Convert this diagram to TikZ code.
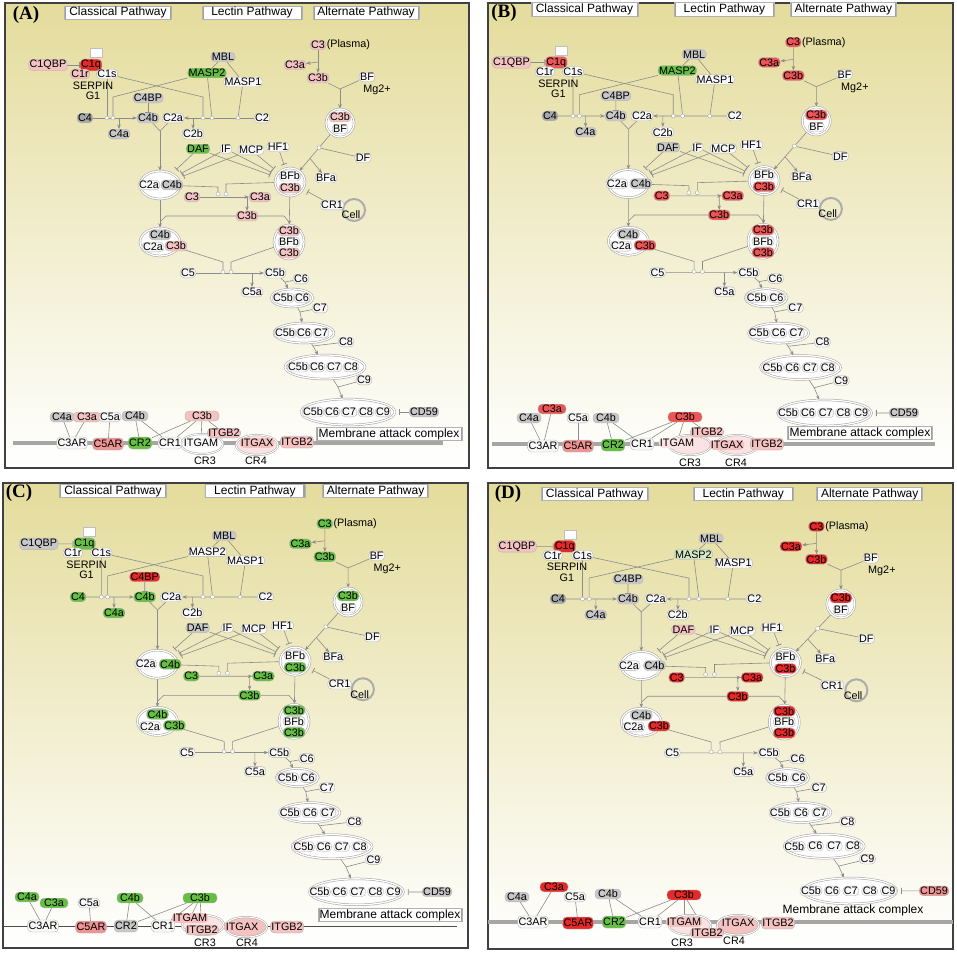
\documentclass[tikz,border=0pt]{standalone}
\usepackage{fontspec}
\setmainfont{Liberation Sans}
\newfontfamily\serifb{Liberation Serif}
\usetikzlibrary{shapes.geometric,arrows.meta,calc}
\pgfdeclarelayer{back}\pgfdeclarelayer{edges}
\pgfsetlayers{back,edges,main}
\definecolor{pinkL}{HTML}{F5C2C2}
\definecolor{pinkLL}{HTML}{FBE3E3}
\definecolor{pinkM}{HTML}{EE9494}
\definecolor{redM}{HTML}{EC5555}
\definecolor{redS}{HTML}{E52828}
\definecolor{grnM}{HTML}{66BE44}
\definecolor{grnL}{HTML}{D4EAC6}
\definecolor{greyN}{HTML}{C8C8C8}
\definecolor{greyD}{HTML}{A8A8A8}
\definecolor{whN}{HTML}{F8F8F8}
\definecolor{bgtop}{HTML}{E4DC9C}
\definecolor{bgmid}{HTML}{F5F1D3}
\definecolor{edgec}{HTML}{8C8C8C}
\newcommand\setk[2]{\colorlet{k#1}{#2}}
\setk{C1QBP}{whN}\setk{C1q}{whN}\setk{C1r}{whN}\setk{C1s}{whN}\setk{SERP}{whN}
\setk{MBL}{greyN}\setk{MASP2}{whN}\setk{MASP1}{whN}\setk{C4BP}{greyN}\setk{C4}{greyD}
\setk{C4b}{greyN}\setk{C2a}{whN}\setk{C4a}{greyN}\setk{C2b}{whN}\setk{C2}{whN}
\setk{DAF}{whN}\setk{IF}{whN}\setk{MCP}{whN}\setk{HF1}{whN}\setk{C3}{whN}
\setk{BF}{whN}\setk{DF}{whN}\setk{BFa}{whN}\setk{CR1}{whN}\setk{C5}{whN}\setk{CD59}{greyN}
\setk{bC4a}{greyN}\setk{bC3a}{whN}\setk{bC5a}{whN}\setk{bC4b}{greyN}\setk{bC3b}{whN}
\setk{C3AR}{whN}\setk{C5AR}{whN}\setk{CR2}{whN}\setk{bCR1}{whN}\setk{ITGAM}{whN}
\setk{ITGB2}{whN}\setk{ITGAX}{whN}\setk{R3}{white}\setk{R4}{white}
\newcommand\nf{\fontsize{10.8}{10.5}\selectfont}
\newcommand\hf{\fontsize{12}{13}\selectfont}
\tikzset{
  gn/.style={draw=gray!60, line width=0.35pt, fill=#1, rounded corners=4pt, inner xsep=1pt, inner ysep=1pt, font=\nf, text=black},
  gn/.default=whN,
  rc/.style={gn=#1, minimum height=12pt},
  cpx/.style={ellipse, draw=gray!75, line width=0.5pt, double=white, double distance=1.3pt, fill=white, inner sep=0pt},
  ring/.style={ellipse, draw=gray!70, line width=0.5pt, double=white, double distance=1pt, fill=#1, minimum width=42pt, minimum height=20pt, inner sep=0pt},
  ed/.style={draw=edgec, line width=0.6pt},
  ar/.style={ed, -{Stealth[length=4.5pt,width=3.5pt]}},
  inh/.style={ed, -{Bar[width=6pt,line width=0.8pt]}},
  jn/.style={circle, draw=gray!70, fill=white, line width=0.4pt, inner sep=0pt, minimum size=4pt},
  hdr/.style={draw=gray!60, line width=0.7pt, fill=white, font=\hf, inner sep=1pt, minimum height=12pt,
    path picture={\draw[gray!75, line width=3pt] (path picture bounding box.north west) -- (path picture bounding box.south west) (path picture bounding box.north east) -- (path picture bounding box.south east);}},
  plbl/.style={font=\serifb\bfseries\fontsize{19}{19}\selectfont},
  frm/.style={draw=black!75, line width=1.6pt},
  txt/.style={font=\nf, inner sep=0.5pt}
}
\newcommand\cbody{%
\node[hdr, minimum width=107pt] (hd1) at (118,12.5) {Classical Pathway};
\node[hdr, minimum width=100pt] (hd2) at (252,12.5) {Lectin Pathway};
\node[hdr, minimum width=106pt] (hd3) at (366,12.5) {Alternate Pathway};
\node[draw=gray!50, fill=white, minimum width=12pt, minimum height=9pt, inner sep=0pt] (sq) at (96,53) {};
\node[gn=kC1QBP] (c1qbp) at (48,65) {C1QBP};
\node[gn=kC1q] (c1q) at (91,65) {C1q};
\node[gn=kC1r] (c1r) at (80,74) {C1r};
\node[gn=kC1s] (c1s) at (107,74) {C1s};
\node[txt, align=center] (serp) at (93,91) {SERPIN\\G1};
\node[gn=kMBL] (mbl) at (223,57) {MBL};
\node[gn=kMASP2] (masp2) at (207,73) {MASP2};
\node[gn=kMASP1] (masp1) at (243,82) {MASP1};
\node[gn=kC4BP] (c4bp) at (148,98) {C4BP};
\node[gn=kC4] (c4) at (85,118) {C4};
\node[gn=kC4b] (c4b) at (148,118) {C4b};
\node[gn=kC2a] (c2a) at (173,118) {C2a};
\node[gn=kC4a] (c4a) at (119,134) {C4a};
\node[gn=kC2b] (c2b) at (193,134) {C2b};
\node[gn=kC2] (c2) at (262,118) {C2};
\node[jn] (jc1) at (107,118) {};
\node[jn] (jc2) at (113,118) {};
\node[jn] (jl1) at (203,118) {};
\node[jn] (jl2) at (212,118) {};
\node[jn] (jl3) at (238,118) {};
\coordinate (b1) at (113,97);
\coordinate (b2) at (203,97);
\coordinate (xc4a) at (119,118);
\coordinate (xc2b) at (193,118);
\coordinate (m0) at (160,131);
\node[gn=kDAF] (daf) at (198,149) {DAF};
\node[gn=kIF] (if) at (226,149) {IF};
\node[gn=kMCP] (mcp) at (251,150) {MCP};
\node[gn=kHF1] (hf1) at (278,147) {HF1};
% complexes middle
\node[cpx, minimum width=40pt, minimum height=28pt] (cpx1) at (160,185) {};
\node[gn=kC2a] (cpx1a) at (149,185) {C2a};
\node[gn=kC4b] (cpx1b) at (172,185) {C4b};
\node[cpx, minimum width=30pt, minimum height=28pt] (cpx2) at (290,182) {};
\node[gn=kBF] (cpx2a) at (290,176) {BFb};
\node[gn=kC3] (cpx2b) at (290,188) {C3b};
\node[gn=kC3] (c3m) at (192,197) {C3};
\node[jn] (j1) at (218,194) {};
\node[jn] (j2) at (226,194) {};
\node[gn=kC3] (c3am) at (260,197) {C3a};
\node[gn=kC3] (c3bm) at (247,216) {C3b};
\coordinate (bj1) at (218,187);
\coordinate (bj2) at (226,184);
\coordinate (xc3) at (247,197);
\coordinate (w1) at (166,216);
\coordinate (v1) at (160,222);
\coordinate (w2) at (284,216);
\coordinate (v2) at (289,222);
% alternate
\node[gn=kC3] (c3p) at (318,45) {C3};
\node[txt, anchor=west] (plasma) at (c3p.east) {(Plasma)};
\node[gn=kC3] (c3at) at (295,65) {C3a};
\node[gn=kC3] (c3bt) at (318,78) {C3b};
\node[gn=kBF] (bf) at (367,77) {BF};
\node[txt] (mg) at (377,90) {Mg2+};
\coordinate (xc3p) at (318,62);
\coordinate (m5) at (340,89);
\node[cpx, minimum width=28pt, minimum height=28pt] (cpx3) at (340,123) {};
\node[gn=kC3] (cpx3a) at (340,117) {C3b};
\node[gn=kBF] (cpx3b) at (340,129) {BF};
\node[jn] (jdf) at ($(cpx3)!0.42!(cpx2)$) {};
\coordinate (xbfa) at ($(cpx3)!0.6!(cpx2)$);
\node[gn=kDF] (df) at (363,158) {DF};
\node[gn=kBFa] (bfa) at (326,178) {BFa};
\node[circle, draw=gray!65, line width=2pt, minimum size=22pt, inner sep=0pt] (cell) at (354,210) {};
\node[gn=kCR1] (cr1) at (332,205) {CR1};
\node[txt] (celltx) at (351,215) {Cell};
% lower complexes
\node[cpx, minimum width=40pt, minimum height=28pt] (cpx4) at (160,242) {};
\node[gn=kC4b] (cpx4a) at (160,235) {C4b};
\node[gn=kC2a] (cpx4b) at (153,247) {C2a};
\node[gn=kC3] (cpx4c) at (176,246) {C3b};
\node[cpx, minimum width=30pt, minimum height=34pt] (cpx5) at (289,242) {};
\node[gn=kC3] (cpx5a) at (289,231) {C3b};
\node[gn=kBF] (cpx5b) at (289,242) {BFb};
\node[gn=kC3] (cpx5c) at (289,253) {C3b};
\node[jn] (j3) at (223,272) {};
\node[jn] (j4) at (231,272) {};
\coordinate (b3) at (223,262);
\coordinate (b4) at (231,262);
\node[gn=kC5] (c5) at (188,273) {C5};
\node[gn=kC5] (c5b) at (275,273) {C5b};
\node[gn=kC5] (c6) at (301,279) {C6};
\node[gn=kC5] (c5a) at (252,292) {C5a};
\coordinate (xc5) at (252,273);
\coordinate (m1) at (285,282);
\coordinate (m2) at (300,312);
\coordinate (m3) at (313,346);
\coordinate (m4) at (338,387);
\node[cpx, minimum width=42pt, minimum height=18pt] (mac1) at (292,298) {};
\node[gn] (mac1a) at (283,298) {C5b};
\node[gn] (mac1b) at (302,298) {C6};
\node[gn=kC5] (c7) at (320,308) {C7};
\node[cpx, minimum width=60pt, minimum height=20pt] (mac2) at (304,333) {};
\node[gn] (mac2a) at (285,333) {C5b};
\node[gn] (mac2b) at (304,333) {C6};
\node[gn] (mac2c) at (321,333) {C7};
\node[gn=kC5] (c8) at (346,342) {C8};
\node[cpx, minimum width=80pt, minimum height=24pt] (mac3) at (325,367) {};
\node[gn] (mac3a) at (298,367) {C5b};
\node[gn] (mac3b) at (317,367) {C6};
\node[gn] (mac3c) at (334,367) {C7};
\node[gn] (mac3d) at (351,367) {C8};
\node[gn=kC5] (c9) at (364,380) {C9};
\node[cpx, minimum width=94pt, minimum height=26pt] (mac4) at (348,412) {};
\node[gn] (mac4a) at (313,412) {C5b};
\node[gn] (mac4b) at (332,412) {C6};
\node[gn] (mac4c) at (349,412) {C7};
\node[gn] (mac4d) at (366,412) {C8};
\node[gn] (mac4e) at (383,412) {C9};
\node[gn=kCD59] (cd59) at (424,412) {CD59};
\begin{pgfonlayer}{edges}
\draw[inh] (c1qbp) -- (c1q);
\draw[ed] (c1s) -- (jc1);
\draw[ed] (masp2) -- (b1) -- (jc2);
\draw[ed] (c1s) -- (b2) -- (jl1);
\draw[ed] (masp2) -- (jl2);
\draw[ed] (masp1) -- (jl3);
\draw[ed] (mbl) -- (masp2);
\draw[ed] (mbl) -- (masp1);
\draw[ar] (c4) -- (c4b);
\draw[ar] (c2) -- (c2a);
\draw[ar] (xc4a) -- (c4a);
\draw[ar] (xc2b) -- (c2b);
\draw[inh] (c4bp) -- (c4b);
\draw[ed] (c4b) -- (m0);
\draw[ed] (c2a) -- (m0);
\draw[ar] (m0) -- (cpx1);
\draw[inh, shorten >=6pt] (daf) -- (cpx1);
\draw[inh, shorten >=6pt] (if) -- (cpx1);
\draw[inh, shorten >=6pt] (mcp) -- (cpx1);
\draw[inh, shorten >=6pt] (daf) -- (cpx2);
\draw[inh, shorten >=6pt] (if) -- (cpx2);
\draw[inh, shorten >=6pt] (mcp) -- (cpx2);
\draw[inh, shorten >=4pt] (hf1) -- (cpx2);
\draw[ed] (cpx1) -- (bj1) -- (j1);
\draw[ed] (cpx2) -- (bj2) -- (j2);
\draw[ar] (c3m) -- (c3am);
\draw[ar] (xc3) -- (c3bm);
\draw[ed] (c3bm) -- (w1) -- (v1);
\draw[ed] (c3bm) -- (w2) -- (v2);
\draw[ar] (cpx1) -- (cpx4);
\draw[ar] (cpx2) -- (cpx5);
\draw[ar] (c3p) -- (c3bt);
\draw[ar] (xc3p) -- (c3at);
\draw[ed] (c3bt) -- (m5);
\draw[ed] (bf) -- (m5);
\draw[ar] (m5) -- (cpx3);
\draw[ar] (cpx3) -- (cpx2);
\draw[ed] (df) -- (jdf);
\draw[ar] (xbfa) -- (bfa);
\draw[inh, shorten >=5pt] (cr1) -- (cpx2);
\draw[ed] (cpx4) -- (b3) -- (j3);
\draw[ed] (cpx5) -- (b4) -- (j4);
\draw[ar] (c5) -- (c5b);
\draw[ar] (xc5) -- (c5a);
\draw[ed] (c5b) -- (m1);
\draw[ed] (c6) -- (m1);
\draw[ar] (m1) -- (mac1);
\draw[ed] (mac1) -- (m2);
\draw[ed] (c7) -- (m2);
\draw[ar] (m2) -- (mac2);
\draw[ed] (mac2) -- (m3);
\draw[ed] (c8) -- (m3);
\draw[ar] (m3) -- (mac3);
\draw[ed] (mac3) -- (m4);
\draw[ed] (c9) -- (m4);
\draw[ar] (m4) -- (mac4);
\draw[inh, shorten >=4pt] (cd59) -- (mac4);
\end{pgfonlayer}
}
\newcommand\botrow{%
\node[ring=kR3] (ring3) at (pR3) {};
\node[ring=kR4] (ring4) at (pR4) {};
\node[gn=kbC4a, minimum width=24pt] (bn4a) at (pC4a) {C4a};
\node[gn=kbC3a, minimum width=28pt] (bn3a) at (pC3a) {C3a};
\node[gn=kbC5a] (bn5a) at (pC5a) {C5a};
\node[gn=kbC4b, minimum width=26pt] (bn4b) at (pC4b) {C4b};
\node[gn=kbC3b, minimum width=34pt] (bn3b) at (pC3b) {C3b};
\node[rc=kC3AR] (rc3ar) at (pC3AR) {C3AR};
\node[rc=kC5AR] (rc5ar) at (pC5AR) {C5AR};
\node[rc=kCR2] (rcr2) at (pCR2) {CR2};
\node[rc=kbCR1] (rcr1) at (pCR1) {CR1};
\node[gn=kITGAM, draw=none] (ritgam) at (pITGAM) {ITGAM};
\node[gn=kITGB2] (ritgbu) at (pITGBu) {ITGB2};
\node[gn=kITGAX, draw=none] (ritgax) at (pITGAX) {ITGAX};
\node[rc=kITGB2] (ritgbr) at (pITGBr) {ITGB2};
\node[txt] (lcr3) at (pL3) {CR3};
\node[txt] (lcr4) at (pL4) {CR4};
\node[maclbl] (macl) at (pMAC) {Membrane attack complex};
\begin{pgfonlayer}{edges}
\draw[membst] (mL) -- (mR);
\draw[ed] (bn4a) -- (rc3ar);
\draw[ed] (bn3a) -- (rc3ar);
\draw[ed] (bn5a) -- (rc5ar);
\draw[ed] (bn4b) -- (rcr2);
\draw[ed] (bn4b) -- (rcr1);
\draw[ed] (bn3b) -- (rcr2);
\draw[ed] (bn3b) -- (rcr1);
\draw[ed] (bn3b) -- (ritgam);
\draw[ed] (bn3b) -- (ritgbu);
\end{pgfonlayer}
}
\begin{document}
\begin{tikzpicture}[x=1pt,y=-1pt]
\useasboundingbox (0,0) rectangle (957,953);
\begin{pgfonlayer}{back}
\fill[white] (0,0) rectangle (957,953);
\shade[top color=bgtop, middle color=bgmid, bottom color=white] (5,3) rectangle (469,468);
\shade[top color=bgtop, middle color=bgmid, bottom color=white] (488,3) rectangle (953,468);
\shade[top color=bgtop, middle color=bgmid, bottom color=white] (3,483) rectangle (468,948);
\shade[top color=bgtop, middle color=bgmid, bottom color=white] (488,483) rectangle (953,949);
\draw[frm] (5,3) rectangle (469,468);
\draw[frm] (488,3) rectangle (953,468);
\draw[frm] (3,483) rectangle (468,948);
\draw[frm] (488,483) rectangle (953,949);
\end{pgfonlayer}
\node[plbl] (lblA) at (26,15) {(A)};
\node[plbl] (lblB) at (504,13) {(B)};
\node[plbl] (lblC) at (19,493) {(C)};
\node[plbl] (lblD) at (508,494) {(D)};
% ---------------- panel A
\begin{scope}[name prefix=A-, membst/.style={draw=gray!70, line width=3.5pt}, maclbl/.style={hdr, minimum width=146pt}]
\setk{C1QBP}{pinkL}\setk{C1q}{redS}\setk{C1r}{pinkL}\setk{MASP2}{grnM}\setk{DAF}{grnM}\setk{C3}{pinkL}
\setk{bC3a}{pinkL}\setk{bC3b}{pinkL}\setk{C5AR}{pinkM}\setk{CR2}{grnM}\setk{ITGB2}{pinkL}\setk{ITGAX}{pinkL}\setk{R4}{pinkLL}
\begin{scope}
\cbody
\end{scope}
\coordinate (pC4a) at (62,417); \coordinate (pC3a) at (87,417); \coordinate (pC5a) at (110,417);
\coordinate (pC4b) at (135,416); \coordinate (pC3b) at (202,416);
\coordinate (pC3AR) at (72,443); \coordinate (pC5AR) at (108,444); \coordinate (pCR2) at (140,443);
\coordinate (pCR1) at (170,443); \coordinate (pITGAM) at (201,443); \coordinate (pITGBu) at (224,433);
\coordinate (pITGAX) at (257,443); \coordinate (pITGBr) at (297,442);
\coordinate (pR3) at (202,444); \coordinate (pR4) at (257,445);
\coordinate (pL3) at (205,461); \coordinate (pL4) at (256,461);
\coordinate (mL) at (13,443); \coordinate (mR) at (443,443); \coordinate (pMAC) at (389,434);
\botrow
\end{scope}
% ---------------- panel B
\begin{scope}[name prefix=B-, membst/.style={draw=gray!70, line width=3.5pt}, maclbl/.style={hdr, minimum width=145pt}]
\setk{C1QBP}{pinkL}\setk{C1q}{redM}\setk{MASP2}{grnM}\setk{DAF}{greyN}\setk{C3}{redM}
\setk{bC3a}{redM}\setk{bC3b}{redM}\setk{C5AR}{pinkM}\setk{CR2}{grnM}\setk{ITGB2}{pinkL}\setk{ITGAX}{pinkL}\setk{ITGAM}{pinkLL}\setk{R3}{pinkLL}\setk{R4}{pinkLL}
\begin{scope}[shift={(461.3,-3.2)}, xscale=1.044, yscale=1.01]
\cbody
\end{scope}
\coordinate (pC4a) at (529,418); \coordinate (pC3a) at (552,409); \coordinate (pC5a) at (578,418);
\coordinate (pC4b) at (606,418); \coordinate (pC3b) at (685,417);
\coordinate (pC3AR) at (543,446); \coordinate (pC5AR) at (578,446); \coordinate (pCR2) at (613,445);
\coordinate (pCR1) at (642,444); \coordinate (pITGAM) at (677,443); \coordinate (pITGBu) at (707,432);
\coordinate (pITGAX) at (727,445); \coordinate (pITGBr) at (767,444);
\coordinate (pR3) at (690,445); \coordinate (pR4) at (737,445);
\coordinate (pL3) at (690,463); \coordinate (pL4) at (736,463);
\coordinate (mL) at (492,444); \coordinate (mR) at (935,444); \coordinate (pMAC) at (860,433);
\botrow
\end{scope}
% ---------------- panel C
\begin{scope}[name prefix=C-, membst/.style={draw=gray!60!black, line width=0.9pt}, maclbl/.style={hdr, minimum width=144pt}]
\setk{C1QBP}{greyN}\setk{C1q}{grnM}\setk{C4BP}{redS}\setk{C4}{grnM}\setk{C4b}{grnM}\setk{C4a}{grnM}
\setk{DAF}{greyN}\setk{C3}{grnM}\setk{bC4a}{grnM}\setk{bC3a}{grnM}\setk{bC4b}{grnM}\setk{bC3b}{grnM}
\setk{C5AR}{pinkM}\setk{CR2}{greyN}\setk{ITGAM}{pinkL}\setk{ITGB2}{pinkL}\setk{ITGAX}{pinkL}\setk{R3}{pinkLL}\setk{R4}{pinkL}
\begin{scope}[shift={(-12,478.6)}, xscale=1.059, yscale=1.003]
\cbody
\end{scope}
\coordinate (pC4a) at (27,897); \coordinate (pC3a) at (54,903); \coordinate (pC5a) at (89,903);
\coordinate (pC4b) at (130,898); \coordinate (pC3b) at (200,898);
\coordinate (pC3AR) at (43,926); \coordinate (pC5AR) at (91,927); \coordinate (pCR2) at (126,926);
\coordinate (pCR1) at (163,926); \coordinate (pITGAM) at (190,918); \coordinate (pITGBu) at (202,930);
\coordinate (pITGAX) at (242,927); \coordinate (pITGBr) at (287,927);
\coordinate (pR3) at (203,925); \coordinate (pR4) at (246,927);
\coordinate (pL3) at (205,943); \coordinate (pL4) at (247,943);
\coordinate (mL) at (3,926); \coordinate (mR) at (457,926); \coordinate (pMAC) at (390,915);
\botrow
\end{scope}
% ---------------- panel D
\begin{scope}[name prefix=D-, membst/.style={draw=gray!70, line width=3.5pt}, maclbl/.style={font=\hf, inner sep=1pt}]
\setk{C1QBP}{pinkL}\setk{C1q}{redS}\setk{MASP2}{grnL}\setk{DAF}{pinkL}\setk{C3}{redS}\setk{CD59}{pinkM}
\setk{bC3a}{redS}\setk{bC3b}{redS}\setk{C5AR}{redS}\setk{CR2}{grnM}\setk{ITGAM}{pinkL}\setk{ITGB2}{pinkL}\setk{ITGAX}{pinkL}\setk{R3}{pinkLL}\setk{R4}{pinkL}
\begin{scope}[shift={(463.8,481.8)}, xscale=1.109, yscale=0.993]
\cbody
\end{scope}
\coordinate (pC4a) at (517,897); \coordinate (pC3a) at (554,887); \coordinate (pC5a) at (575,897);
\coordinate (pC4b) at (608,894); \coordinate (pC3b) at (684,895);
\coordinate (pC3AR) at (533,922); \coordinate (pC5AR) at (578,923); \coordinate (pCR2) at (614,922);
\coordinate (pCR1) at (650,922); \coordinate (pITGAM) at (684,922); \coordinate (pITGBu) at (707,933);
\coordinate (pITGAX) at (738,923); \coordinate (pITGBr) at (778,923);
\coordinate (pR3) at (690,925); \coordinate (pR4) at (738,925);
\coordinate (pL3) at (682,943); \coordinate (pL4) at (734,941);
\coordinate (mL) at (488,922); \coordinate (mR) at (953,922); \coordinate (pMAC) at (853,910);
\botrow
\end{scope}
\end{tikzpicture}
\end{document}
